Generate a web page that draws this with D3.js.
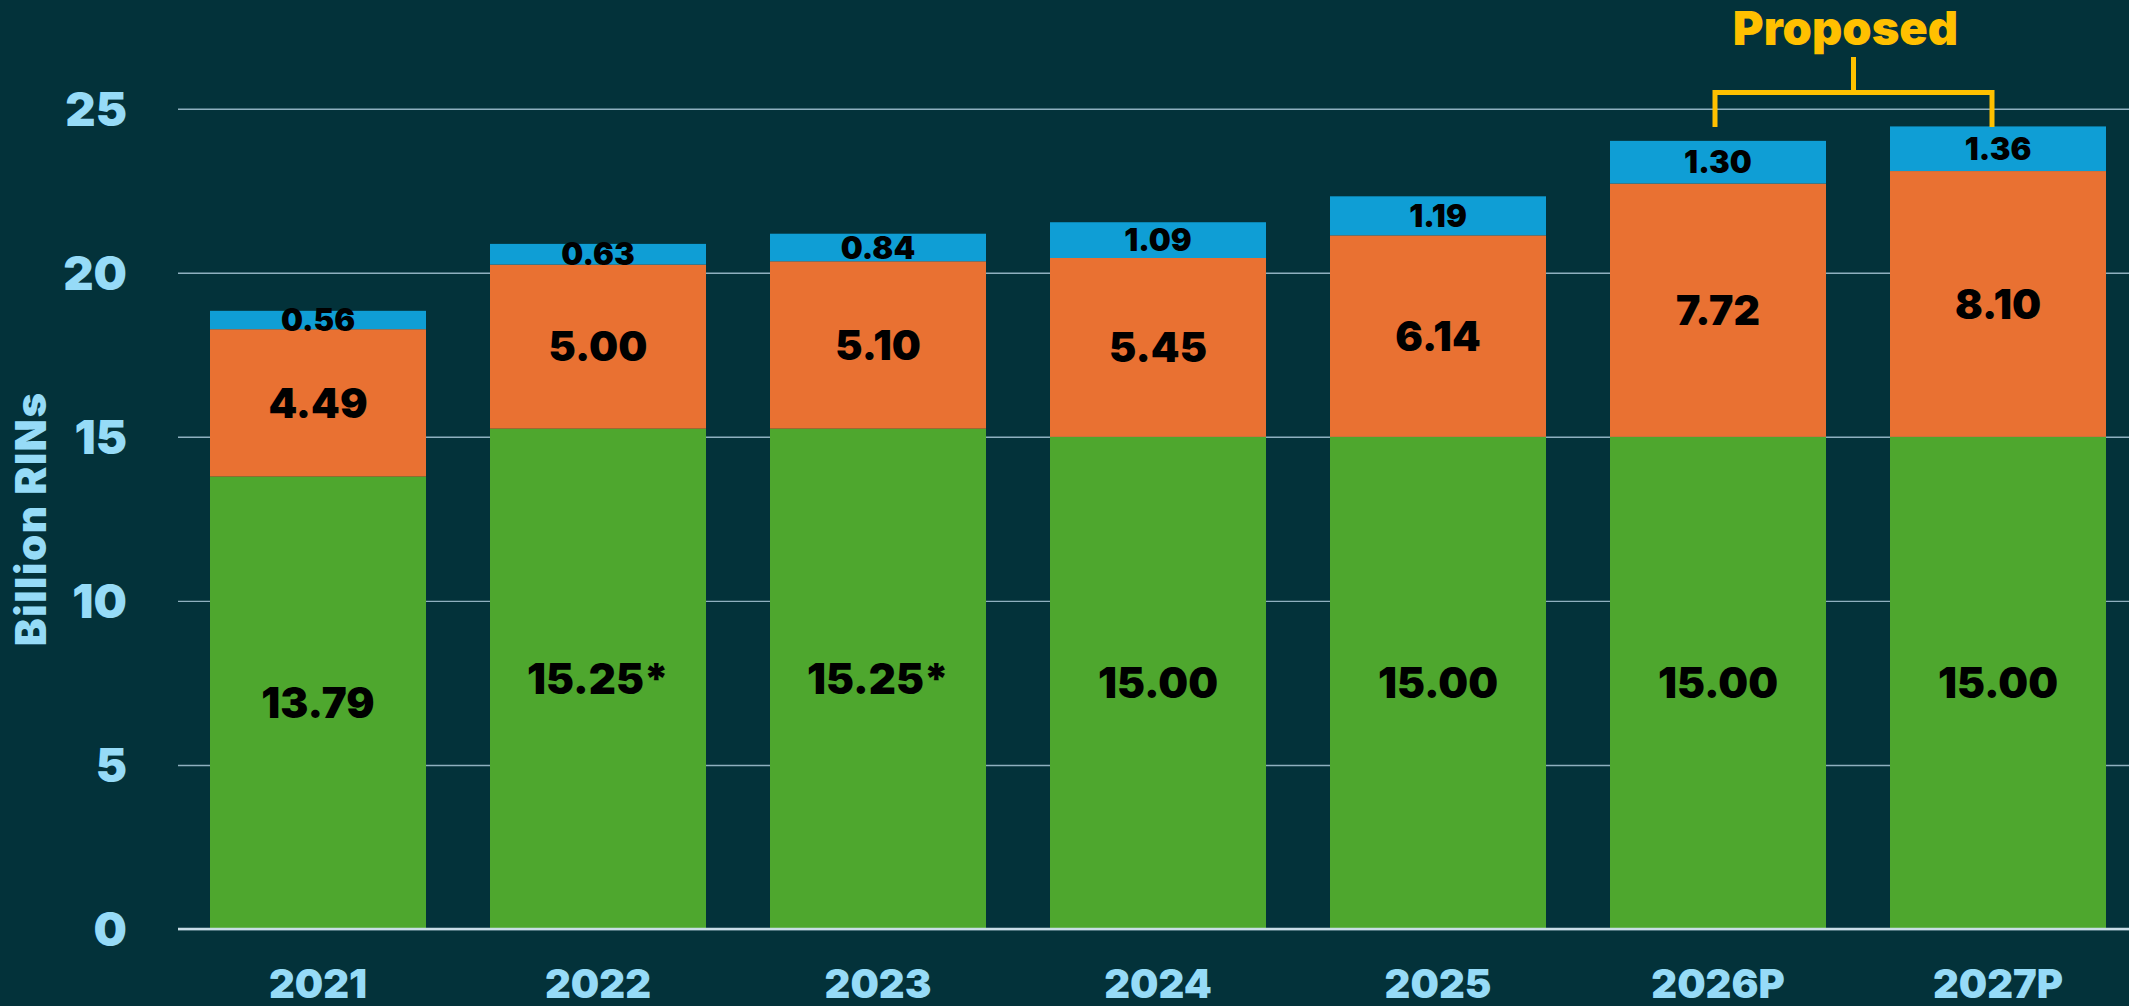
<!DOCTYPE html>
<html>
<head>
<meta charset="utf-8">
<script src="https://cdn.jsdelivr.net/npm/d3@7"></script>
<style>
  html, body { margin: 0; padding: 0; background: #03323a; }
  svg { display: block; }
  text { font-family: "Arial Black", Inter, Roboto, sans-serif; font-weight: 900; }
</style>
</head>
<body>
<svg id="chart"></svg>
<script>
// data
const years = ["2021", "2022", "2023", "2024", "2025", "2026P", "2027P"];
const conventional = [13.79, 15.25, 15.25, 15.0, 15.0, 15.0, 15.0];
const conventionalLabels = ["13.79", "15.25*", "15.25*", "15.00", "15.00", "15.00", "15.00"];
const advanced = [4.49, 5.0, 5.1, 5.45, 6.14, 7.72, 8.1];
const advancedLabels = ["4.49", "5.00", "5.10", "5.45", "6.14", "7.72", "8.10"];
const cellulosic = [0.56, 0.63, 0.84, 1.09, 1.19, 1.3, 1.36];
const cellulosicLabels = ["0.56", "0.63", "0.84", "1.09", "1.19", "1.30", "1.36"];
const yTicks = [0, 5, 10, 15, 20, 25];
const proposedYears = ["2026P", "2027P"];

const width = 2129;
const height = 1006;
const margin = { top: 108.7, right: -9, bottom: 77, left: 178 };

const svg = d3.select("#chart").attr("width", width).attr("height", height);

svg.append("rect").attr("width", width).attr("height", height).attr("fill", "#03323a");

const x = d3
  .scaleBand()
  .domain(years)
  .range([margin.left, width - margin.right])
  .paddingInner(0.2286)
  .paddingOuter(0.1143);

const y = d3
  .scaleLinear()
  .domain([0, 25])
  .range([height - margin.bottom, margin.top]);

// stack the three series
const rows = years.map((yr, i) => ({
  year: yr,
  conventional: conventional[i],
  advanced: advanced[i],
  cellulosic: cellulosic[i],
}));
const keys = ["conventional", "advanced", "cellulosic"];
const colors = { conventional: "#4ea72e", advanced: "#e97132", cellulosic: "#0f9ed5" };
const labels = { conventional: conventionalLabels, advanced: advancedLabels, cellulosic: cellulosicLabels };
const labelSize = { conventional: 42, advanced: 41, cellulosic: 31 };
const series = d3.stack().keys(keys)(rows);

// y axis + gridlines
const yAxis = (g) =>
  g
    .attr("transform", `translate(${margin.left},0)`)
    .call(
      d3
        .axisLeft(y)
        .tickValues(yTicks)
        .tickSize(-(width - margin.left))
        .tickPadding(51)
    )
    .call((g) => g.select(".domain").remove())
    .call((g) => g.selectAll(".tick line").attr("stroke", "#8fb0bf").attr("stroke-width", 1.4))
    .call((g) =>
      g.selectAll(".tick text").attr("fill", "#96dbf7").attr("font-size", 47).attr("dy", "0.35em")
    );
svg.append("g").call(yAxis);

// bars
svg
  .append("g")
  .selectAll("g")
  .data(series)
  .join("g")
  .attr("fill", (d) => colors[d.key])
  .selectAll("rect")
  .data((d) => d)
  .join("rect")
  .attr("x", (d) => x(d.data.year))
  .attr("y", (d) => y(d[1]))
  .attr("width", x.bandwidth())
  .attr("height", (d) => y(d[0]) - y(d[1]));

// zero line on top
svg
  .append("line")
  .attr("x1", margin.left)
  .attr("x2", width)
  .attr("y1", y(0))
  .attr("y2", y(0))
  .attr("stroke", "#c9dde6")
  .attr("stroke-width", 2.5);

// value labels
series.forEach((s) => {
  svg
    .append("g")
    .selectAll("text")
    .data(s)
    .join("text")
    .attr("x", (d) => x(d.data.year) + x.bandwidth() / 2)
    .attr("y", (d) => (y(d[0]) + y(d[1])) / 2)
    .attr("dy", "0.36em")
    .attr("text-anchor", "middle")
    .attr("font-size", labelSize[s.key])
    .attr("fill", "#000")
    .text((d, i) => labels[s.key][i]);
});

// x axis
const xAxis = (g) =>
  g
    .attr("transform", `translate(0,${y(0)})`)
    .call(d3.axisBottom(x).tickSize(0).tickPadding(41))
    .call((g) => g.select(".domain").remove())
    .call((g) => g.selectAll(".tick text").attr("fill", "#96dbf7").attr("font-size", 40));
svg.append("g").call(xAxis);

// y axis title
svg
  .append("text")
  .attr("transform", `translate(31,${(y(0) + y(25)) / 2}) rotate(-90)`)
  .attr("text-anchor", "middle")
  .attr("dy", "0.36em")
  .attr("font-size", 42)
  .attr("letter-spacing", 1.5)
  .attr("fill", "#96dbf7")
  .text("Billion RINs");

// proposed bracket
const xl = x(proposedYears[0]) + x.bandwidth() / 2 - 3;
const xr = x(proposedYears[1]) + x.bandwidth() / 2 - 6;
const xm = (xl + xr) / 2;
const bracket = d3.path();
bracket.moveTo(xl, 127);
bracket.lineTo(xl, 92.5);
bracket.lineTo(xr, 92.5);
bracket.lineTo(xr, 127);
bracket.moveTo(xm, 57);
bracket.lineTo(xm, 92.5);
svg
  .append("path")
  .attr("d", bracket.toString())
  .attr("fill", "none")
  .attr("stroke", "#ffc000")
  .attr("stroke-width", 5);

svg
  .append("text")
  .attr("x", xm - 8)
  .attr("y", 45)
  .attr("text-anchor", "middle")
  .attr("font-size", 47)
  .attr("fill", "#ffc000")
  .text("Proposed");
</script>
</body>
</html>
